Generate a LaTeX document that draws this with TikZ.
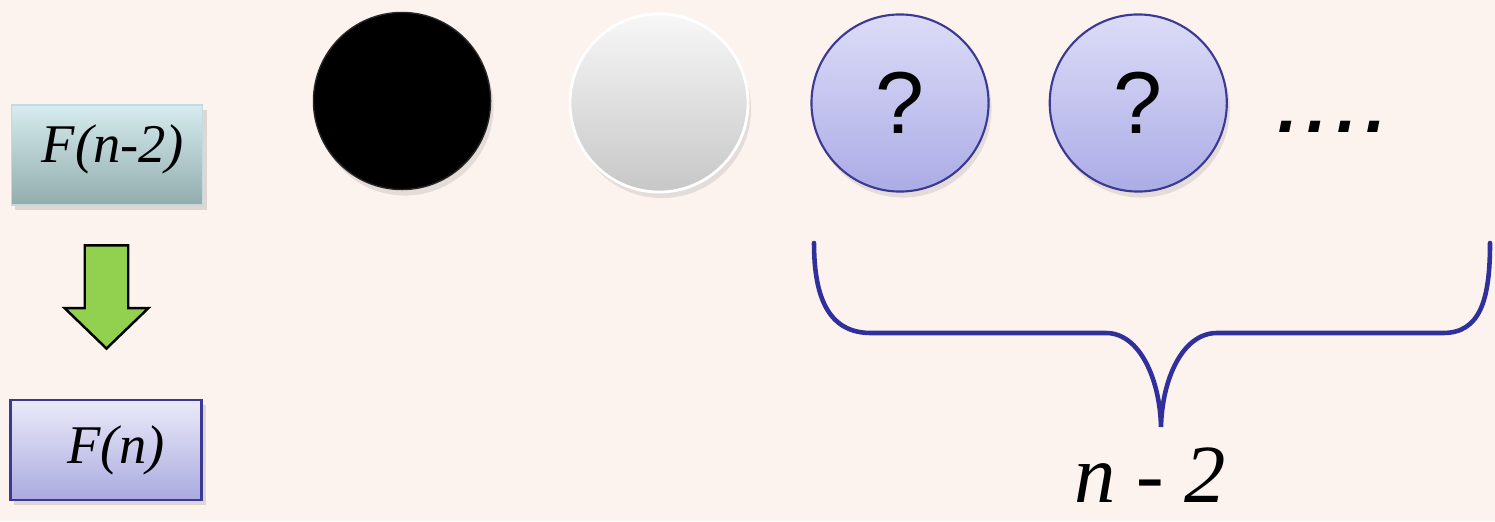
\documentclass[tikz,border=0pt]{standalone}
\usepackage{fontspec}
\setmainfont{Liberation Serif}
\newfontfamily\qfont{Liberation Sans}
\usetikzlibrary{positioning,shapes.arrows,shadows}

\definecolor{bgpeach}{RGB}{253,243,238}
\definecolor{tealtop}{RGB}{214,236,240}
\definecolor{tealbot}{RGB}{146,172,172}
\definecolor{tealrim}{RGB}{196,218,222}
\definecolor{lilactop}{RGB}{234,234,249}
\definecolor{lilacbot}{RGB}{170,170,224}
\definecolor{lilacrim}{RGB}{58,58,148}
\definecolor{balltop}{RGB}{220,220,248}
\definecolor{ballbot}{RGB}{172,172,230}
\definecolor{arrowgreen}{RGB}{146,208,80}
\definecolor{bracecol}{RGB}{48,48,156}

\begin{document}
\begin{tikzpicture}[x=0.01cm,y=-0.01cm,
 fbox/.style={rectangle,inner sep=0pt,minimum width=19.1mm,minimum height=10mm,
   font=\fontsize{15.5}{18}\selectfont\itshape,
   drop shadow={opacity=0.25,shadow xshift=0.4mm,shadow yshift=-0.5mm}},
 ball/.style={circle,inner sep=0pt,minimum size=17.7mm,
   drop shadow={opacity=0.2,shadow xshift=0.3mm,shadow yshift=-0.6mm}},
 qball/.style={ball,draw=lilacrim,line width=0.6pt,shading=axis,top color=balltop,bottom color=ballbot,
   font=\qfont\fontsize{25}{30}\selectfont}]
% background and picture size
\fill[bgpeach] (0,0) rectangle (1495,521);
\useasboundingbox (0,0) rectangle (1495,521);

% left column: F(n-2) leads to F(n)
\node[fbox,draw=tealrim,line width=0.5pt,shading=axis,top color=tealtop,bottom color=tealbot] (fprev) at (107,155)
  {\hspace*{1.2mm}\raisebox{0.6mm}[\height][\depth]{F(n-2)}};
\node[fbox,draw=lilacrim,line width=0.7pt,shading=axis,top color=lilactop,bottom color=lilacbot] (fcur) at (106,450)
  {\hspace*{2mm}F(n)};
\node[single arrow,draw=black,line width=0.7pt,fill=arrowgreen,inner xsep=0pt,inner ysep=2.05mm,
  minimum height=10.3mm,minimum width=8.1mm,single arrow head extend=2mm,
  single arrow tip angle=92,rotate=-90] (down) at (106.5,286.5) {};

% row of balls
\node[ball,fill=black,draw=black!85] (blackball) at (402,101) {};
\node[ball,draw=white,line width=0.8pt,shading=axis,top color=black!3,bottom color=black!22,minimum size=17.8mm] (whiteball) at (659,103) {};
\node[qball] (qa) at (900,103) {?};
\node[qball,right=5.9mm of qa] (qb) {?};
\node[font=\qfont\itshape\fontsize{30}{32}\selectfont,anchor=base] (more) at (1334,132) {....};

% brace under the unknown balls
\draw[bracecol,line width=1.3pt,line cap=round]
  (814,243) .. controls (814,300) and (830,333) .. (871,333) -- (1106,333)
  .. controls (1140,333) and (1160,380) .. (1161,427)
  .. controls (1162,380) and (1182,333) .. (1217,333) -- (1443,333)
  .. controls (1480,333) and (1490,300) .. (1490,243);
\node[font=\fontsize{23.5}{28}\selectfont\itshape,anchor=base,inner sep=0pt] (count) at (1150,502) {n - 2};
\end{tikzpicture}
\end{document}
